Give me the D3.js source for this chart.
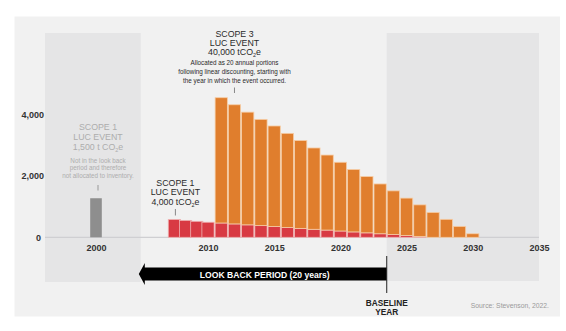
<!DOCTYPE html>
<html>
<head>
<meta charset="utf-8">
<script src="https://cdn.jsdelivr.net/npm/d3@7"></script>
<style>
html,body{margin:0;padding:0;background:#fff;}
svg{display:block;font-family:"Liberation Sans",Arial,Helvetica,sans-serif;}
</style>
</head>
<body>
<svg id="chart" width="566" height="331"></svg>
<script>
// ---- data ----
const scope1Years = [2007,2008,2009,2010,2011,2012,2013,2014,2015,2016,2017,2018,2019,2020,2021,2022,2023,2024,2025,2026];
const scope1Values = [580,550,520,490,465,435,405,380,350,320,290,260,235,205,175,145,115,90,60,30];
const scope3Years = [2011,2012,2013,2014,2015,2016,2017,2018,2019,2020,2021,2022,2023,2024,2025,2026,2027,2028,2029,2030];
const scope3Values = [4075,3875,3665,3455,3270,3060,2855,2645,2440,2235,2030,1830,1620,1420,1215,1025,810,585,355,115];
const excludedYear = [2000];
const excludedValue = [1270];
const xTicks = [2000,2010,2015,2020,2025,2030,2035];
const yTicks = [0,2000,4000];
const baselineYear = 2023.5;
const lookBackStart = 2004;

// ---- setup ----
const svg = d3.select("#chart");
const x = d3.scaleLinear().domain([1995.5, 2000, 2010, 2035]).range([45, 96, 208, 539]);
const y = d3.scaleLinear().domain([0, 4000]).range([237.3, 114.3]);
const step = x(2011) - x(2010);
const fmt = d3.format(",");

// panel background
svg.append("rect").attr("x",14.5).attr("y",16.5).attr("width",545.5).attr("height",300)
  .attr("fill","#f1f1f1");

// shaded regions
svg.append("rect").attr("x",x(1995.5)).attr("y",33).attr("width",x(lookBackStart)-x(1995.5)).attr("height",249)
  .attr("fill","#e5e5e6");
svg.append("rect").attr("x",x(baselineYear)).attr("y",33).attr("width",x(2035)-x(baselineYear)).attr("height",248)
  .attr("fill","#e5e5e6");

// zero axis line
svg.append("line").attr("x1",x(1995.5)).attr("x2",x(2035)).attr("y1",y(0)).attr("y2",y(0))
  .attr("stroke","#cfcfd2").attr("stroke-width",1.2);

// y axis labels
const yAxis = d3.axisLeft(y).tickValues(yTicks).tickFormat(fmt).tickSize(0).tickPadding(0);
const gy = svg.append("g").attr("transform","translate(44,0)").call(yAxis);
gy.select(".domain").remove();
gy.selectAll("text").attr("font-size",9).attr("fill","#333").attr("font-weight","600")
  .attr("dy","0.35em").attr("dx", d => d===0 ? -3 : 0);

// x axis labels
const xAxis = d3.axisBottom(x).tickValues(xTicks).tickFormat(d3.format("d")).tickSize(0).tickPadding(0);
const gx = svg.append("g").attr("transform",`translate(0,${y(0)+10.5})`).call(xAxis);
gx.select(".domain").remove();
gx.selectAll("text").attr("font-size",9).attr("fill","#333").attr("font-weight","600").attr("dy","0.35em");

// excluded grey bar
svg.selectAll(".gbar").data(excludedYear.map((d,i)=>({year:d,v:excludedValue[i]}))).join("rect")
  .attr("x",d=>x(d.year)-5.8).attr("width",11.6)
  .attr("y",d=>y(d.v)).attr("height",d=>y(0)-y(d.v)).attr("fill","#8e8e8e");

// scope 1 (red) bars
const s1 = scope1Years.map((d,i)=>({year:d,v:scope1Values[i]}));
const s1map = new Map(s1.map(d=>[d.year,d.v]));
svg.selectAll(".rbar").data(s1).join("rect")
  .attr("x",d=>x(d.year)-step/2+0.5).attr("width",step-1)
  .attr("y",d=>y(d.v)).attr("height",d=>y(0)-y(d.v))
  .attr("fill","#d83a43").attr("stroke","#efb3b3").attr("stroke-width",0.8);

// scope 3 (orange) bars stacked on red
const s3 = scope3Years.map((d,i)=>({year:d,v:scope3Values[i],base:s1map.get(d)||0}));
svg.selectAll(".obar").data(s3).join("rect")
  .attr("x",d=>x(d.year)-step/2+0.5).attr("width",step-1)
  .attr("y",d=>y(d.base+d.v)).attr("height",d=>y(d.base)-y(d.base+d.v))
  .attr("fill","#e07e2d").attr("stroke","#f6cda6").attr("stroke-width",0.8);

// annotations helper (alphabetic baseline; y given as visual centre)
function label(cx, lines, color){
  lines.forEach(l=>{
    const t = svg.append("text").attr("x",cx).attr("y",l.y + l.size*0.35).attr("text-anchor","middle")
      .attr("font-size",l.size).attr("fill",color);
    if(l.sub){
      const sh = l.size*0.25;
      t.append("tspan").text(l.text);
      t.append("tspan").text("2").attr("font-size",l.size*0.62).attr("dy",sh);
      t.append("tspan").text("e").attr("dy",-sh);
    } else t.text(l.text);
  });
}
function tick(cx, y1, y2, color){
  svg.append("line").attr("x1",cx).attr("x2",cx).attr("y1",y1).attr("y2",y2)
    .attr("stroke",color).attr("stroke-width",1);
}

// scope 3 annotation
const s3x = x(2012);
label(s3x,[
  {text:"SCOPE 3",y:34,size:8.8},
  {text:"LUC EVENT",y:43,size:8.8},
  {text:"40,000 tCO",y:52,size:8.8,sub:true},
  {text:"Allocated as 20 annual portions",y:63,size:6.3},
  {text:"following linear discounting, starting with",y:72,size:6.3},
  {text:"the year in which the event occurred.",y:80.5,size:6.3}
],"#2a2a2a");
tick(s3x,87.5,93,"#888");

// scope 1 annotation (red)
const s1x = x(2007)+1;
label(s1x,[
  {text:"SCOPE 1",y:183,size:8.8},
  {text:"LUC EVENT",y:192,size:8.8},
  {text:"4,000 tCO",y:201.5,size:8.8,sub:true}
],"#2a2a2a");
tick(s1x,209,215.5,"#888");

// excluded scope 1 annotation
const gxp = x(2000)+2;
label(gxp,[
  {text:"SCOPE 1",y:127,size:8.8},
  {text:"LUC EVENT",y:137,size:8.8},
  {text:"1,500 t CO",y:147,size:8.8,sub:true},
  {text:"Not in the look back",y:160.5,size:6.3},
  {text:"period and therefore",y:168,size:6.3},
  {text:"not allocated to inventory.",y:175.5,size:6.3}
],"#adadad");
tick(gxp,185,190.5,"#999");

// look back arrow
const ax0 = x(lookBackStart)-2, ax1 = x(baselineYear);
const ay = 274;
svg.append("path")
  .attr("d",`M${ax0},${ay} L${ax0+6},${ay-11} L${ax0+6},${ay-6.5} L${ax1},${ay-6.5} L${ax1},${ay+6.5} L${ax0+6},${ay+6.5} L${ax0+6},${ay+11} Z`)
  .attr("fill","#000");
svg.append("text").attr("x",(ax0+ax1)/2+2).attr("y",ay+3.5).attr("text-anchor","middle")
  .attr("font-size",8.6).attr("fill","#fff").attr("font-weight","600")
  .text("LOOK BACK PERIOD (20 years)");

// baseline year line
svg.append("line").attr("x1",x(baselineYear)).attr("x2",x(baselineYear)).attr("y1",256).attr("y2",293)
  .attr("stroke","#222").attr("stroke-width",1);
svg.append("text").attr("x",x(baselineYear)).attr("y",305.5).attr("text-anchor","middle")
  .attr("font-size",8.3).attr("fill","#222").attr("font-weight","600").text("BASELINE");
svg.append("text").attr("x",x(baselineYear)).attr("y",314.5).attr("text-anchor","middle")
  .attr("font-size",8.3).attr("fill","#222").attr("font-weight","600").text("YEAR");

// source
svg.append("text").attr("x",549).attr("y",307.5).attr("text-anchor","end")
  .attr("font-size",6.8).attr("fill","#9a9a9a").text("Source: Stevenson, 2022.");
</script>
</body>
</html>
